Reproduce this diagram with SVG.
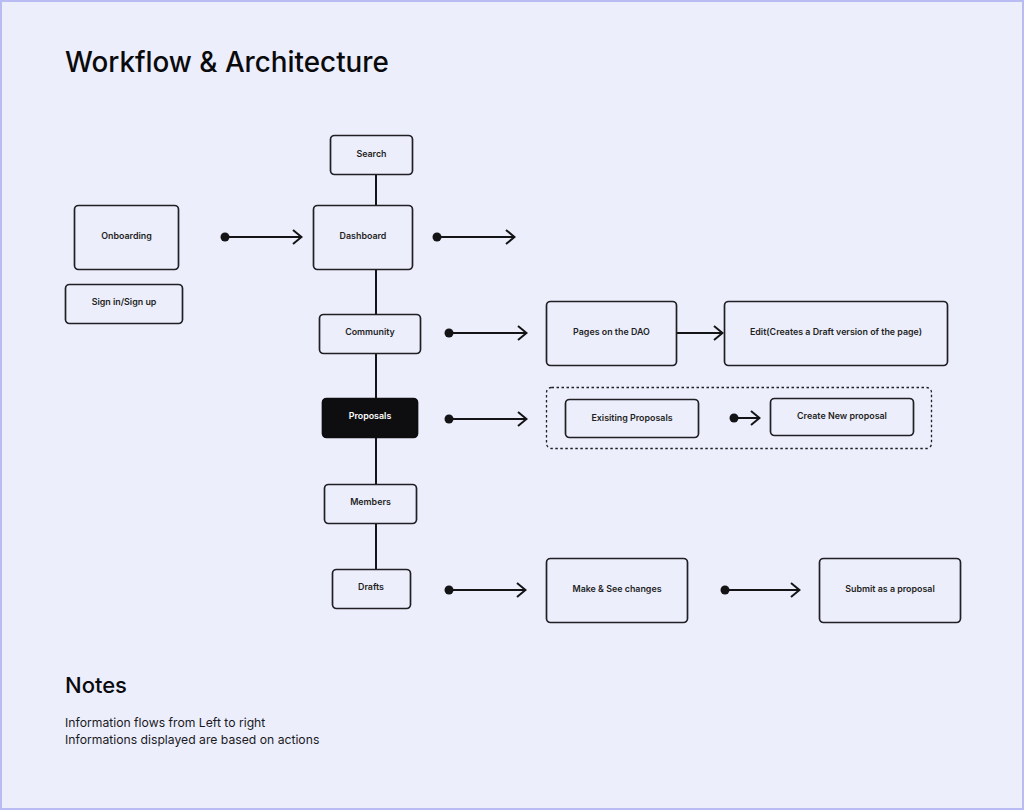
<svg xmlns="http://www.w3.org/2000/svg" width="1024" height="810" viewBox="0 0 1024 810">
<defs>
<style>
.bg{fill:#ECEEFB;stroke:#B8BCF2;stroke-width:2}
.node rect{fill:none;stroke:#1F1F24;stroke-width:1.7}
.node text{font-family:Inter,"Noto Sans",sans-serif;font-size:8.9px;font-weight:600;fill:#1F1F24;text-anchor:middle;dominant-baseline:central}
.dark rect{fill:#0E0E10;stroke:#0E0E10}
.dark text{fill:#FFFFFF}
.conn line,.conn path{stroke:#141416;stroke-width:2;fill:none}
.conn circle{fill:#141416}
.title{font-family:Inter,"Noto Sans",sans-serif;font-weight:500;fill:#0A0A0C}
.note{font-family:Inter,"Noto Sans",sans-serif;font-size:12.2px;fill:#1A1A1E}
</style>
<marker id="arr" viewBox="0 0 12 16" refX="11" refY="8" markerWidth="12" markerHeight="16" markerUnits="userSpaceOnUse" orient="auto">
<path d="M2 1 L10.5 8 L2 15" fill="none" stroke="#141416" stroke-width="2"/>
</marker>
</defs>
<rect class="bg" x="1" y="1" width="1022" height="808"/>
<text class="title" x="65" y="72" font-size="27.8">Workflow &amp; Architecture</text>

<g id="connectors" class="conn">
<line x1="376" y1="174" x2="376" y2="205"/>
<line x1="376" y1="269" x2="376" y2="314"/>
<line x1="376" y1="353" x2="376" y2="398"/>
<line x1="376" y1="437" x2="376" y2="484"/>
<line x1="376" y1="523" x2="376" y2="569"/>
<circle cx="225" cy="237" r="4.5"/><line x1="225" y1="237" x2="302" y2="237" marker-end="url(#arr)"/>
<circle cx="437" cy="237" r="4.5"/><line x1="437" y1="237" x2="515" y2="237" marker-end="url(#arr)"/>
<circle cx="449" cy="333" r="4.5"/><line x1="449" y1="333" x2="527" y2="333" marker-end="url(#arr)"/>
<line x1="676" y1="333" x2="723" y2="333" marker-end="url(#arr)"/>
<circle cx="449" cy="419" r="4.5"/><line x1="449" y1="419" x2="527" y2="419" marker-end="url(#arr)"/>
<circle cx="734" cy="418" r="4.5"/><line x1="734" y1="418" x2="760" y2="418" marker-end="url(#arr)"/>
<circle cx="449" cy="590" r="4.5"/><line x1="449" y1="590" x2="526" y2="590" marker-end="url(#arr)"/>
<circle cx="725" cy="590" r="4.5"/><line x1="725" y1="590" x2="800" y2="590" marker-end="url(#arr)"/>
</g>

<g id="proposal-group"><rect x="546.5" y="387.5" width="385" height="61" rx="5" fill="none" stroke="#1F1F24" stroke-width="1.3" stroke-dasharray="2.5 2.5"/></g>

<g id="search" class="node"><rect x="330.5" y="135.5" width="82" height="39" rx="4"/><text x="371.5" y="153">Search</text></g>
<g id="onboarding" class="node"><rect x="74.5" y="205.5" width="104" height="64" rx="4"/><text x="126.5" y="235.5">Onboarding</text></g>
<g id="signin" class="node"><rect x="65.5" y="284.5" width="117" height="39" rx="4"/><text x="124" y="301.5">Sign in/Sign up</text></g>
<g id="dashboard" class="node"><rect x="313.5" y="205.5" width="99" height="64" rx="4"/><text x="363" y="235.5">Dashboard</text></g>
<g id="community" class="node"><rect x="319.5" y="314.5" width="101" height="39" rx="4"/><text x="370" y="331.5">Community</text></g>
<g id="pages" class="node"><rect x="546.5" y="301.5" width="130" height="64" rx="4"/><text x="611.5" y="331.5">Pages on the DAO</text></g>
<g id="edit" class="node"><rect x="724.5" y="301.5" width="223" height="64" rx="4"/><text x="836" y="331.5">Edit(Creates a Draft version of the page)</text></g>
<g id="proposals" class="node dark"><rect x="322.5" y="398.5" width="95" height="39" rx="4"/><text x="370" y="415.5">Proposals</text></g>
<g id="existing" class="node"><rect x="565.5" y="399.5" width="133" height="38" rx="4"/><text x="632" y="417.5">Exisiting Proposals</text></g>
<g id="create" class="node"><rect x="770.5" y="398.5" width="143" height="37" rx="4"/><text x="842" y="415.5">Create New proposal</text></g>
<g id="members" class="node"><rect x="324.5" y="484.5" width="92" height="39" rx="4"/><text x="370.5" y="501.5">Members</text></g>
<g id="drafts" class="node"><rect x="332.5" y="569.5" width="78" height="39" rx="4"/><text x="371" y="586.5">Drafts</text></g>
<g id="make" class="node"><rect x="546.5" y="558.5" width="141" height="64" rx="4"/><text x="617" y="588.5">Make &amp; See changes</text></g>
<g id="submit" class="node"><rect x="819.5" y="558.5" width="141" height="64" rx="4"/><text x="890" y="588.5">Submit as a proposal</text></g>

<text class="title" x="65" y="693" font-size="22">Notes</text>
<text class="note" x="65" y="727">Information flows from Left to right</text>
<text class="note" x="65" y="744">Informations displayed are based on actions</text>
</svg>
